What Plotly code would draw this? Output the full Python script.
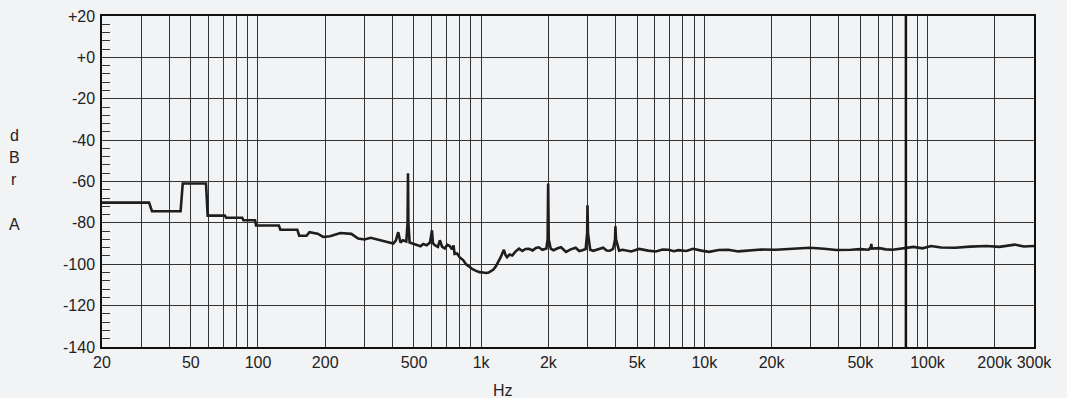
import plotly.graph_objects as go

# ---- data (Hz, dBr A) ----
freq_hz = [20, 32.5, 33.5, 45, 46, 58.5, 59.5, 71, 72, 85, 86, 97, 98, 124, 126, 150, 153, 165,
           170, 185, 196, 210, 234, 262, 281, 300, 320, 350, 375, 390, 404, 415, 425, 435, 446,
           462, 468, 470, 472, 478, 491, 510, 535, 550, 570, 590, 602, 608, 620, 640, 653, 668,
           687, 705, 723, 740, 752, 760, 780, 800, 830, 856, 885, 919, 950, 982, 1020, 1052,
           1080, 1107, 1135, 1164, 1195, 1223, 1264, 1285, 1306, 1340, 1379, 1420, 1477, 1530,
           1580, 1637, 1700, 1760, 1812, 1880, 1960, 1985, 1996, 2008, 2050, 2110, 2200, 2280,
           2400, 2520, 2650, 2750, 2840, 2940, 2985, 2995, 3010, 3080, 3180, 3350, 3520, 3650,
           3770, 3900, 3980, 3995, 4020, 4150, 4300, 4700, 5100, 5600, 6060, 6500, 6920, 7300,
           7650, 8300, 8900, 9700, 10500, 11600, 12800, 14200, 15800, 18000, 20900, 24500,
           29700, 34400, 39000, 45500, 50000, 54500, 55800, 56000, 56300, 60800, 65000, 69800,
           75000, 80000, 86600, 95000, 103800, 115000, 133000, 155000, 184000, 210000, 246000,
           270000, 300000]
level_dbr = [-70.2, -70.2, -74.4, -74.4, -61.0, -61.0, -76.5, -76.5, -77.5, -77.5, -78.7, -78.7,
             -81.3, -81.3, -83.3, -83.3, -86.2, -86.2,
             -84.5, -85.2, -86.8, -86.5, -84.9, -85.3, -87.6, -88.0, -87.2, -88.4, -89.0, -89.5,
             -90.0, -88.5, -84.5, -89.5, -88.4,
             -89.0, -80.0, -56.0, -80.0, -89.5, -90.0, -90.8, -91.3, -90.2, -90.8, -89.5, -83.6,
             -89.8, -90.8, -91.6, -88.4, -91.5,
             -92.4, -90.6, -91.2, -92.8, -90.9, -95.0, -94.8, -96.6, -98.0, -100.0, -101.3,
             -102.5, -103.2, -103.8, -104.0, -104.2,
             -104.0, -103.4, -102.6, -101.0, -99.0, -96.6, -93.0, -95.5, -96.6, -95.3, -95.8,
             -94.0, -92.5, -93.6,
             -92.6, -92.5, -93.3, -92.1, -91.8, -93.0, -92.4, -88.0, -61.0, -88.0, -92.5, -93.2,
             -92.3, -91.8,
             -94.0, -92.8, -92.0, -93.6, -93.2, -92.6, -85.0, -71.5, -85.0, -93.0, -93.5, -92.7,
             -92.0, -93.4,
             -93.5, -92.6, -88.0, -81.6, -88.0, -93.4, -93.0, -93.8, -92.6, -93.4, -93.8, -92.9,
             -93.0, -93.7,
             -93.2, -93.6, -92.5, -93.4, -94.0, -93.1, -93.0, -93.8, -93.5, -92.9, -93.0, -92.6,
             -92.0, -92.5, -93.1, -93.0, -92.7, -93.0, -91.5, -90.2, -92.4, -92.2, -92.8, -93.0,
             -92.5, -92.1, -91.6, -92.3, -91.2, -91.9, -92.0, -91.5, -91.2, -91.6, -90.5,
             -91.4, -91.2]

x_label_vals = [20, 50, 100, 200, 500, 1000, 2000, 5000, 10000, 20000, 50000, 100000, 200000, 300000]
x_label_text = ["20", "50", "100", "200", "500", "1k", "2k", "5k", "10k", "20k", "50k", "100k", "200k", "300k"]
y_label_vals = [20, 0, -20, -40, -60, -80, -100, -120, -140]
y_label_text = ["+20", "+0", "-20", "-40", "-60", "-80", "-100", "-120", "-140"]
marker_freq = 80000

# log grid positions 20, 30, ..., 100, 200, ..., 300k
grid_vals = []
for decade in [10, 100, 1000, 10000, 100000]:
    for m in range(1, 10):
        v = m * decade
        if 20 <= v <= 300000:
            grid_vals.append(v)
grid_vals.append(300000)

BG = "#f2f3f5"
GRID = "#333333"
FONT = "Liberation Sans, Arial, sans-serif"
FS = 16

fig = go.Figure()
fig.add_trace(go.Scatter(x=freq_hz, y=level_dbr, mode="lines",
                         line=dict(color="#1e1e1e", width=2.6), showlegend=False,
                         hoverinfo="skip"))

fig.update_layout(
    width=1067, height=398,
    margin=dict(l=102, r=33, t=16, b=51),
    paper_bgcolor=BG, plot_bgcolor=BG,
    font=dict(family=FONT, size=FS, color="#222"),
    showlegend=False,
)
fig.update_xaxes(
    type="log", range=[1.30103, 5.4771213],
    tickvals=x_label_vals, ticktext=x_label_text, ticks="",
    showgrid=True, gridcolor=GRID, gridwidth=1,
    minor=dict(tickvals=grid_vals, showgrid=True, gridcolor=GRID, gridwidth=1, ticks=""),
    showline=True, linecolor="#111", linewidth=1.5, mirror=True,
    zeroline=False, ticklabelstandoff=0, automargin=False,
)
fig.update_yaxes(
    range=[-140, 20], tickvals=y_label_vals, ticktext=y_label_text,
    ticks="inside", ticklen=8, tickcolor="#333",
    showgrid=True, gridcolor=GRID, gridwidth=1,
    minor=dict(dtick=4, tick0=0, ticks="inside", ticklen=8, tickcolor="#333", showgrid=False),
    showline=True, linecolor="#111", linewidth=1.5, mirror=True,
    zeroline=False, ticklabelstandoff=2, automargin=False,
)

fig.add_shape(type="line", xref="x", yref="paper", x0=marker_freq, x1=marker_freq, y0=0, y1=1,
              line=dict(color="#111", width=2.5))

# vertical axis title, letters stacked
plot_h = 331
for letter, py in [("d", 135), ("B", 157), ("r", 179), ("A", 224)]:
    fig.add_annotation(text=letter, xref="paper", yref="paper",
                       x=(14 - 102) / 932, y=(347 - py) / plot_h,
                       showarrow=False, xanchor="center", yanchor="middle",
                       font=dict(family=FONT, size=FS, color="#222"))
fig.add_annotation(text="Hz", xref="paper", yref="paper",
                   x=(503 - 102) / 932, y=(347 - 390) / plot_h,
                   showarrow=False, xanchor="center", yanchor="middle",
                   font=dict(family=FONT, size=FS, color="#222"))

fig.write_html("out.html", config={"displayModeBar": False},
               post_script="document.body.style.margin='0';")
